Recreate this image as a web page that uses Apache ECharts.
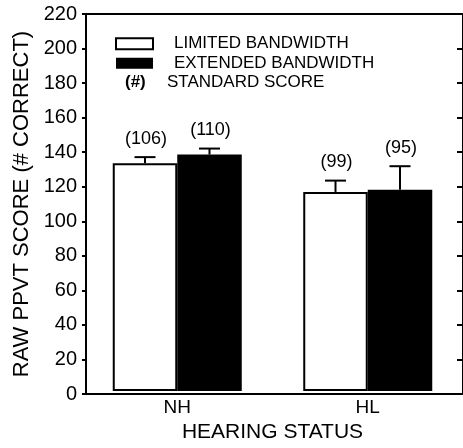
<!DOCTYPE html>
<html>
<head>
<meta charset="utf-8">
<script src="https://cdn.jsdelivr.net/npm/echarts@6/dist/echarts.min.js"></script>
<style>
  html, body { margin: 0; padding: 0; background: #fff; }
  #chart { width: 463px; height: 448px; }
</style>
</head>
<body>
<div id="chart"></div>
<script>
// Hearing-status groups on the x axis
const categories = ['NH', 'HL'];

// Mean raw PPVT scores (# correct)
const limitedScores = [133, 116.2];
const extendedScores = [138, 117.5];

// Upper error-bar lengths
const limitedErrors = [3.5, 6.6];
const extendedErrors = [3.5, 13.7];

// Standard scores printed above each bar
const limitedStandard = ['(106)', '(99)'];
const extendedStandard = ['(110)', '(95)'];

// Y axis range and tick step
const yMin = 0;
const yMax = 220;
const yStep = 20;

const FONT = '"Liberation Sans", Arial, sans-serif';
const BAR_WIDTH = 64.5;
const CAP_HALF = 10.5;

const chart = echarts.init(document.getElementById('chart'), null, { renderer: 'canvas' });

function errorBars(side, errors, labels) {
  return function (params, api) {
    const cat = api.value(0);
    const val = api.value(1);
    const err = errors[params.dataIndex];
    const base = api.coord([cat, val]);
    const top = api.coord([cat, val + err]);
    const x = base[0] + side * BAR_WIDTH / 2;
    return {
      type: 'group',
      children: [
        { type: 'line', shape: { x1: x, y1: base[1], x2: x, y2: top[1] },
          style: { stroke: '#000', lineWidth: 2 } },
        { type: 'line', shape: { x1: x - CAP_HALF, y1: top[1], x2: x + CAP_HALF, y2: top[1] },
          style: { stroke: '#000', lineWidth: 2 } },
        { type: 'text', x: x + 1, y: top[1] - 18.5,
          style: { text: labels[params.dataIndex], align: 'center', verticalAlign: 'middle',
                   font: '18px ' + FONT, fill: '#000' } }
      ]
    };
  };
}

const yAxisCommon = { type: 'value', min: yMin, max: yMax, interval: yStep };

chart.setOption({
  animation: false,
  backgroundColor: '#fff',
  grid: [
    { left: 86, top: 14, width: 379, height: 380, show: true, borderColor: '#000', borderWidth: 2,
      backgroundColor: 'transparent' },
    { left: 82, top: 14, width: 387, height: 380 }
  ],
  xAxis: [
    { gridIndex: 0, type: 'value', show: false, min: 0, max: 1 },
    { gridIndex: 1, type: 'category', data: categories,
      axisLine: { show: false }, axisTick: { show: false },
      axisLabel: { color: '#000', fontSize: 19, fontFamily: FONT, margin: 7 },
      name: 'HEARING STATUS', nameLocation: 'middle', nameGap: 28,
      nameTextStyle: { color: '#000', fontSize: 21, fontFamily: FONT } }
  ],
  yAxis: [
    Object.assign({ gridIndex: 0, position: 'left',
      axisLine: { show: true, lineStyle: { color: '#000', width: 2 } },
      axisTick: { show: true, inside: false, length: 4, lineStyle: { color: '#000', width: 2 } },
      axisLabel: { color: '#000', fontSize: 20, fontFamily: FONT, margin: 9 },
      splitLine: { show: false },
      name: 'RAW PPVT SCORE (# CORRECT)', nameLocation: 'middle', nameGap: 52,
      nameTextStyle: { color: '#000', fontSize: 22, fontFamily: FONT } }, yAxisCommon),
    Object.assign({ gridIndex: 0, position: 'right',
      axisLine: { show: false },
      axisTick: { show: true, inside: true, length: 6, lineStyle: { color: '#000', width: 2 } },
      axisLabel: { show: false },
      splitLine: { show: false } }, yAxisCommon),
    Object.assign({ gridIndex: 1, show: false, splitLine: { show: false } }, yAxisCommon)
  ],
  legend: {
    left: 115, top: 34, padding: 0, orient: 'vertical', itemWidth: 37, itemHeight: 11, itemGap: 0,
    selectedMode: false,
    textStyle: { color: '#000', fontSize: 17, fontFamily: FONT, padding: [0, 0, 0, 16], lineHeight: 19.5 },
    data: [
      { name: 'LIMITED BANDWIDTH', icon: 'rect',
        itemStyle: { color: '#fff', borderColor: '#000', borderWidth: 2 } },
      { name: 'EXTENDED BANDWIDTH', icon: 'rect',
        itemStyle: { color: '#000', borderColor: '#000', borderWidth: 0 } }
    ]
  },
  graphic: [
    { type: 'text', left: 125, top: 74,
      style: { text: '(#)', font: 'bold 17px ' + FONT, fill: '#000' } },
    { type: 'text', left: 167, top: 74,
      style: { text: 'STANDARD SCORE', font: '17px ' + FONT, fill: '#000' } }
  ],
  series: [
    { name: 'LIMITED BANDWIDTH', type: 'bar', xAxisIndex: 1, yAxisIndex: 2,
      data: limitedScores, barWidth: BAR_WIDTH, barGap: '0%',
      itemStyle: { color: '#fff', borderColor: '#000', borderWidth: 2 } },
    { name: 'EXTENDED BANDWIDTH', type: 'bar', xAxisIndex: 1, yAxisIndex: 2,
      data: extendedScores, barWidth: BAR_WIDTH, barGap: '0%',
      itemStyle: { color: '#000', borderColor: '#000', borderWidth: 2 } },
    { type: 'custom', xAxisIndex: 1, yAxisIndex: 2, z: 5,
      renderItem: errorBars(-1, limitedErrors, limitedStandard),
      data: limitedScores.map((v, i) => [i, v]) },
    { type: 'custom', xAxisIndex: 1, yAxisIndex: 2, z: 5,
      renderItem: errorBars(1, extendedErrors, extendedStandard),
      data: extendedScores.map((v, i) => [i, v]) }
  ]
});
</script>
</body>
</html>
